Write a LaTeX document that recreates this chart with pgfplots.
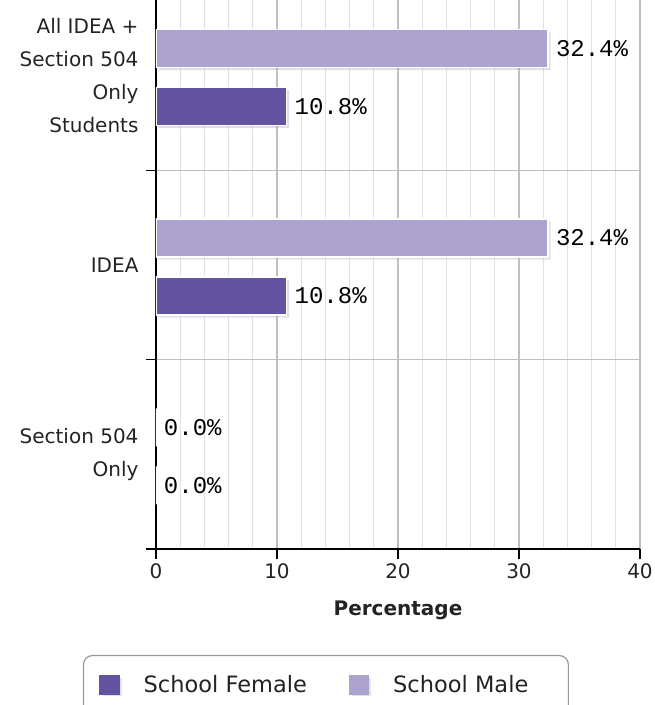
\documentclass[border=0pt]{standalone}
\usepackage{pgfplots}
\pgfplotsset{compat=1.18}
\usepackage{fontspec}
\setmainfont{DejaVu Sans}
\newfontfamily\monofont{Liberation Mono}
\usetikzlibrary{shadows}
\definecolor{fem}{RGB}{99,83,160}
\definecolor{mal}{RGB}{172,163,207}
\definecolor{lbl}{RGB}{35,35,35}
\begin{document}
\begin{tikzpicture}
\begin{axis}[
  at={(0,0)}, anchor=south west,
  scale only axis, width=484pt, height=549pt,
  xbar, bar width=38pt,
  xmin=0, xmax=40, ymin=-0.5, ymax=2.4,
  axis x line*=bottom, axis y line*=left,
  axis line style={black, line width=1.6pt},
  /pgf/number format/assume math mode=true,
  xtick={0,10,20,30,40},
  minor x tick num=4,
  xmajorgrids, xminorgrids, ymajorgrids,
  major grid style={black!25, line width=1.2pt},
  minor grid style={black!12, line width=1.2pt},
  ytick={-0.5,0.5,1.5},
  yticklabels={},
  extra y ticks={0,1,2},
  extra y tick labels={{Section 504\\Only},{IDEA},{All IDEA +\\Section 504\\Only\\Students}},
  extra y tick style={grid=none, major tick length=0pt,
     yticklabel style={align=right, xshift=-14pt}},
  tick align=outside,
  major tick length=10pt,
  minor tick length=0pt,
  tick style={black, line width=1.6pt},
  tick label style={font=\fontsize{20}{33}\selectfont, text=lbl},
  xticklabel style={yshift=-1pt},
  xlabel={Percentage},
  xlabel style={font=\bfseries\fontsize{20}{22}\selectfont, text=lbl, yshift=-15pt},
  point meta=x,
  nodes near coords={\pgfmathprintnumber[fixed,fixed zerofill,precision=1,assume math mode=true]{\pgfplotspointmeta}\%},
  nodes near coords style={font=\monofont\fontsize{24}{24}\selectfont, anchor=west, xshift=4pt, text=black},
  legend style={at={(0.351,-0.193)}, anchor=north, legend columns=2,
     draw=black!40, line width=1.2pt, rounded corners=9pt,
     font=\fontsize{22.5}{24}\selectfont, text=lbl,
     inner xsep=16pt, inner ysep=18pt,
     /tikz/every odd column/.append style={column sep=22pt},
     /tikz/every even column/.append style={column sep=40pt}},
  legend cell align=left,
]
\addplot[fill=fem, draw=white, line width=1.3pt, bar shift=-31pt,
  drop shadow={shadow xshift=2.5pt, shadow yshift=-2.5pt, opacity=0.25},
  legend image code/.code={\fill[fem, sharp corners] (0pt,-9pt) rectangle (19pt,9pt);}]
  coordinates {(0,0) (10.8,1) (10.8,2)};
\addlegendentry{School Female}
\addplot[fill=mal, draw=white, line width=1.3pt, bar shift=27pt,
  drop shadow={shadow xshift=2.5pt, shadow yshift=-2.5pt, opacity=0.25},
  legend image code/.code={\fill[mal, sharp corners] (0pt,-9pt) rectangle (19pt,9pt);}]
  coordinates {(0,0) (32.4,1) (32.4,2)};
\addlegendentry{School Male\hspace*{22pt}}
\draw[black!22, line width=7pt] ([xshift=3.5pt]rel axis cs:1,0) -- ([xshift=3.5pt]rel axis cs:1,1);
\end{axis}
\pgfresetboundingbox
\path (-156pt,-156pt) rectangle (499pt,549pt);
\end{tikzpicture}
\end{document}
